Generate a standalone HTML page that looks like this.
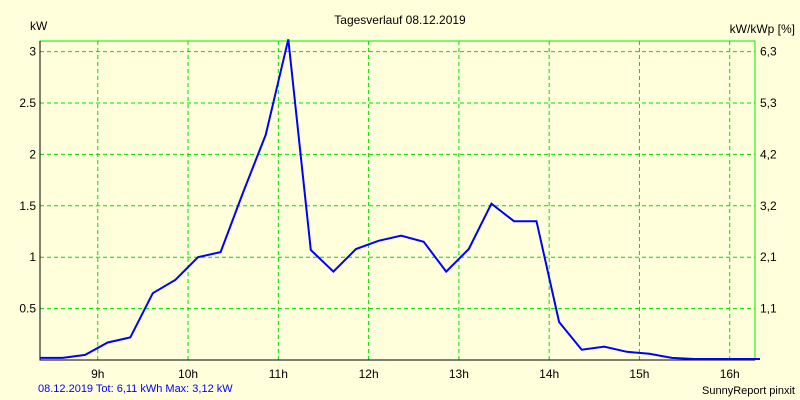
<!DOCTYPE html>
<html><head><meta charset="utf-8"><style>
body{margin:0;background:#ffffdc;}
svg{display:block;font-family:"Liberation Sans",sans-serif;font-size:12px;}
</style></head><body>
<svg id="c" width="800" height="400">
<rect width="800" height="400" fill="#ffffdc"/>
<text x="400" y="24" text-anchor="middle">Tagesverlauf 08.12.2019</text>
<text x="30" y="30">kW</text>
<text x="795" y="33" text-anchor="end">kW/kWp [%]</text>
<text x="38" y="392" fill="#0000ff" font-size="11">08.12.2019 Tot: 6,11 kWh Max: 3,12 kW</text>
<text x="795" y="394" text-anchor="end" font-size="11">SunnyReport pinxit</text>
<g id="grid"></g><g id="axes"></g><g id="series"></g>
</svg>
<script>
const hours=[9,10,11,12,13,14,15,16];
const yTicks=[0.5,1,1.5,2,2.5,3];
const rightTicks=["1,1","2,1","3,2","4,2","5,3","6,3"];
const startTime=8.36, stepTime=0.25;
const power=[0.02,0.02,0.05,0.17,0.22,0.65,0.78,1.0,1.05,1.63,2.19,3.12,1.07,0.86,1.08,1.16,1.21,1.15,0.86,1.08,1.52,1.35,1.35,0.37,0.1,0.13,0.08,0.06,0.02,0.01,0.01,0.01,0.01];
const L=40,R=755,T=41,B=360,x0=8.36,x1=16.28,pxPerKW=102.8;
const X=h=>L+(h-x0)/(x1-x0)*(R-L);
const Y=v=>Math.max(T-2,B-v*pxPerKW);
const NS="http://www.w3.org/2000/svg";
function mk(p,t,a){const e=document.createElementNS(NS,t);for(const k in a)e.setAttribute(k,a[k]);p.appendChild(e);return e;}
const g=document.getElementById('grid'),ax=document.getElementById('axes'),s=document.getElementById('series');
mk(g,'rect',{x:L,y:T,width:R-L,height:B-T,fill:'#ffffdc',stroke:'#00ee00'});
hours.forEach(h=>{const x=X(h);
 const l=mk(g,'line',{x1:x,x2:x,y1:T,y2:B,stroke:'#00dd00','stroke-dasharray':'4,3'});
 
 
 const t=mk(ax,'text',{x:x,y:378,'text-anchor':'middle'});t.textContent=h+'h';
 
 
});
yTicks.forEach((v,i)=>{const y=Y(v);
 const l=mk(g,'line',{x1:L,x2:R,y1:y,y2:y,stroke:'#00dd00','stroke-dasharray':'4,3'});
 
 
 const t=mk(ax,'text',{x:36,y:y+4,'text-anchor':'end'});t.textContent=String(v);
 
 
 const t2=mk(ax,'text',{x:760,y:y+4});t2.textContent=rightTicks[i];
 
 
});
const al=mk(ax,'polyline',{points:`${L},${T} ${L},${B} ${R},${B}`,fill:'none',stroke:'#000'});


const pts=power.map((v,i)=>{let x=X(startTime+i*stepTime);x=Math.min(x,R+5);return x.toFixed(1)+','+Y(v).toFixed(1);}).join(' ');
const pl=mk(s,'polyline',{points:pts,fill:'none',stroke:'#0000ff','stroke-width':2});


</script>
</body></html>
